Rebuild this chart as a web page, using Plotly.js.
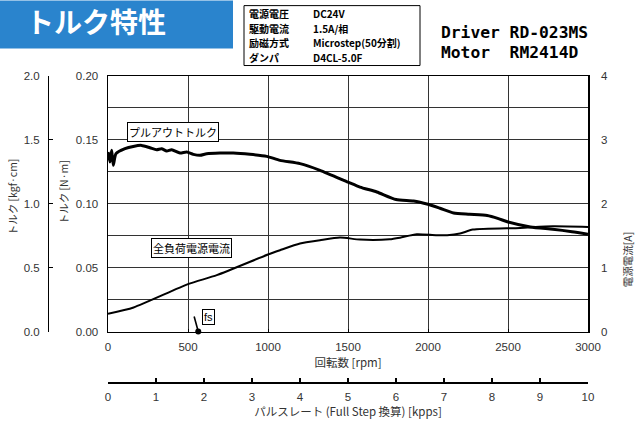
<!DOCTYPE html>
<html>
<head>
<meta charset="utf-8">
<script src="https://cdn.plot.ly/plotly-3.0.1.min.js"></script>
<style>html,body{margin:0;padding:0;background:#fff}#chart{width:635px;height:425px}</style>
</head>
<body>
<div id="chart"></div>
<script>
// ---- data ----
const torqueRpm = [0,12,23,33,50,106,158,210,262,304,335,367,398,450,492,533,575,617,700,783,887,992,1075,1200,1325,1500,1575,1680,1800,1910,2000,2075,2160,2260,2370,2440,2500,2640,2780,2900,3000];
const torqueNm  = [0.1405,0.1327,0.1418,0.1301,0.1392,0.1431,0.1449,0.1457,0.1439,0.1423,0.1431,0.1413,0.1423,0.1397,0.1405,0.1387,0.1379,0.1392,0.1397,0.1397,0.1387,0.1371,0.1340,0.1314,0.1262,0.1170,0.1131,0.1092,0.1033,0.1022,0.0996,0.0965,0.0928,0.0918,0.0908,0.0884,0.0858,0.0819,0.0801,0.0782,0.0762];
const currentRpm = [0,160,500,680,1000,1075,1200,1325,1450,1575,1760,1825,1930,2050,2120,2200,2280,2575,2780,3000];
const currentA   = [0.278,0.378,0.742,0.883,1.206,1.273,1.378,1.430,1.472,1.440,1.445,1.470,1.523,1.508,1.508,1.534,1.596,1.622,1.648,1.638];
const fsRpm = [564];
const fsVal = [0];

const headerTitle = 'トルク特性';
const specLabels = ['電源電圧','駆動電流','励磁方式','ダンパ'];
const specValues = ['DC24V','1.5A/相','Microstep(50分割)','D4CL-5.0F'];
const driverText = 'Driver RD-023MS';
const motorText  = 'Motor\u00a0\u00a0RM2414D';
const pullOutLabel = 'プルアウトトルク';
const currentLabel = '全負荷電源電流';
const fsLabel = 'fs';
const xTitle = '回転数 [rpm]';
const x2Title = 'パルスレート (Full Step 換算) [kpps]';
const yTitleNm = 'トルク [N·m]';
const yTitleKgf = 'トルク [kgf·cm]';
const y2Title = '電源電流[A]';

// ---- geometry helpers (pixel -> paper) ----
const W = 635, H = 425, ML = 48, MR = 47, MT = 75.5, MB = 43;
const PW = W - ML - MR, PH = H - MT - MB;
const px = x => (x - ML) / PW;
const py = y => (H - MB - y) / PH;

const JP = '"Noto Sans CJK JP", "Noto Sans", sans-serif';
const TICK = 'Liberation Sans, Arial, sans-serif';
const tickFont = {family: TICK, size: 11.5, color: '#333'};
const gridC = '#333';

const traces = [
  {x: torqueRpm, y: torqueNm, xaxis: 'x', yaxis: 'y', type: 'scatter', mode: 'lines',
   line: {color: '#000', width: 3, shape: 'spline', smoothing: 0.6}, hoverinfo: 'skip'},
  {x: currentRpm, y: currentA, xaxis: 'x', yaxis: 'y2', type: 'scatter', mode: 'lines',
   line: {color: '#000', width: 2, shape: 'spline', smoothing: 0.6}, hoverinfo: 'skip'},
  {x: fsRpm, y: fsVal, xaxis: 'x', yaxis: 'y', type: 'scatter', mode: 'markers', cliponaxis: false,
   marker: {color: '#000', size: 6}, hoverinfo: 'skip'},
  {x: [], y: [], xaxis: 'x2', yaxis: 'y', type: 'scatter', mode: 'lines', hoverinfo: 'skip'},
  {x: [], y: [], xaxis: 'x', yaxis: 'y3', type: 'scatter', mode: 'lines', hoverinfo: 'skip'}
];

const mainXDomain = [px(108), 1];
const mainYDomain = [py(331.5), 1];

const annotations = [];
function addText(text, x, y, opts) {
  annotations.push(Object.assign({text: text, xref: 'paper', yref: 'paper', x: px(x), y: py(y),
    showarrow: false, xanchor: 'left', yanchor: 'middle'}, opts));
}
// header
addText('<b>' + headerTitle + '</b>', 24, 20, {font: {family: JP, size: 28, color: '#fff'}});
const specFont = {family: JP, size: 10, color: '#000'};
const rowY = [13.1, 27.7, 42.3, 56.9];
specLabels.forEach((s, i) => addText('<b>' + s + '</b>', 247, rowY[i], {font: specFont}));
specValues.forEach((s, i) => addText('<b>' + s + '</b>', 311, rowY[i], {font: specFont}));
addText('<b>' + driverText + '</b>', 439, 31.5, {font: {family: 'DejaVu Sans Mono, monospace', size: 16.3, color: '#000'}});
addText('<b>' + motorText + '</b>', 439, 51.5, {font: {family: 'DejaVu Sans Mono, monospace', size: 16.3, color: '#000'}});
// axis titles
addText(yTitleKgf, 12, 197, {xanchor: 'center', textangle: -90, font: {family: JP, size: 10.5, color: '#333'}});
addText(yTitleNm, 63, 192, {xanchor: 'center', textangle: -90, font: {family: JP, size: 10.5, color: '#333'}});
addText(y2Title, 627, 260, {xanchor: 'center', textangle: -90, font: {family: JP, size: 10.5, color: '#333'}});
// curve labels
const boxed = {xanchor: 'center', bgcolor: '#fff', bordercolor: '#000', borderwidth: 1, borderpad: 1,
               font: {family: JP, size: 11, color: '#000'}};
addText(pullOutLabel, 172.5, 131.5, boxed);
addText(currentLabel, 191, 248, boxed);
addText(fsLabel, 208.3, 317.3, Object.assign({}, boxed, {font: {family: TICK, size: 11, color: '#000'}}));
// fs leader line
annotations.push({x: fsRpm[0], y: fsVal[0], xref: 'x', yref: 'y', text: '', showarrow: true,
  arrowhead: 0, arrowwidth: 1.6, arrowcolor: '#000', ax: -4.5, ay: -16.5, standoff: 0});

const layout = {
  width: W, height: H,
  margin: {l: ML, r: MR, t: MT, b: MB, pad: 0},
  paper_bgcolor: '#fff', plot_bgcolor: '#fff',
  showlegend: false, hovermode: false,
  xaxis: {domain: mainXDomain, anchor: 'y', range: [0, 3000], dtick: 500, tick0: 0,
    showgrid: true, gridcolor: gridC, gridwidth: 1, zeroline: false,
    showline: true, linecolor: '#000', linewidth: 1.5, mirror: true,
    ticks: 'inside', ticklen: 3, tickcolor: '#000', tickfont: tickFont, ticklabelstandoff: 4,
    title: {text: xTitle, font: {family: JP, size: 11.5, color: '#333'}, standoff: 7}},
  xaxis2: {overlaying: 'x', anchor: 'free', position: 0, side: 'bottom', range: [0, 10], dtick: 1, tick0: 0,
    showgrid: false, zeroline: false, showline: true, linecolor: '#000', linewidth: 1.5,
    ticks: 'inside', ticklen: 4, tickcolor: '#000', tickwidth: 1.5, tickfont: tickFont, ticklabelstandoff: 4,
    title: {text: x2Title, font: {family: JP, size: 11.5, color: '#333'}, standoff: 3}},
  yaxis: {domain: mainYDomain, anchor: 'x', range: [0, 0.2], dtick: 0.05, tick0: 0, tickformat: '.2f',
    showgrid: true, gridcolor: gridC, gridwidth: 1, zeroline: false,
    minor: {dtick: 0.025, tick0: 0, showgrid: true, gridcolor: gridC, gridwidth: 1},
    showline: true, linecolor: '#000', linewidth: 1.5, mirror: true,
    ticks: '', tickfont: tickFont, ticklabelstandoff: 6},
  yaxis2: {overlaying: 'y', anchor: 'x', side: 'right', range: [0, 4], dtick: 1, tick0: 0,
    showgrid: false, zeroline: false, showline: false, ticks: '', tickfont: tickFont, ticklabelstandoff: 12},
  yaxis3: {overlaying: 'y', anchor: 'free', position: 0, side: 'left', range: [0, 2], dtick: 0.5, tick0: 0,
    tickformat: '.1f', showgrid: false, zeroline: false, showline: true, linecolor: '#000', linewidth: 1.2,
    ticks: 'inside', ticklen: 4, tickcolor: '#000', tickfont: tickFont, ticklabelstandoff: 6},
  shapes: [
    {type: 'rect', xref: 'paper', yref: 'paper', x0: px(0), x1: px(233), y0: py(0), y1: py(48),
     fillcolor: '#2A84CD', line: {width: 0}, layer: 'below'},
    {type: 'rect', xref: 'paper', yref: 'paper', x0: px(244), x1: px(420), y0: py(5), y1: py(65),
     fillcolor: 'rgba(0,0,0,0)', line: {color: '#000', width: 1}}
  ],
  annotations: annotations
};

Plotly.newPlot('chart', traces, layout, {staticPlot: true, displayModeBar: false});
</script>
</body>
</html>
